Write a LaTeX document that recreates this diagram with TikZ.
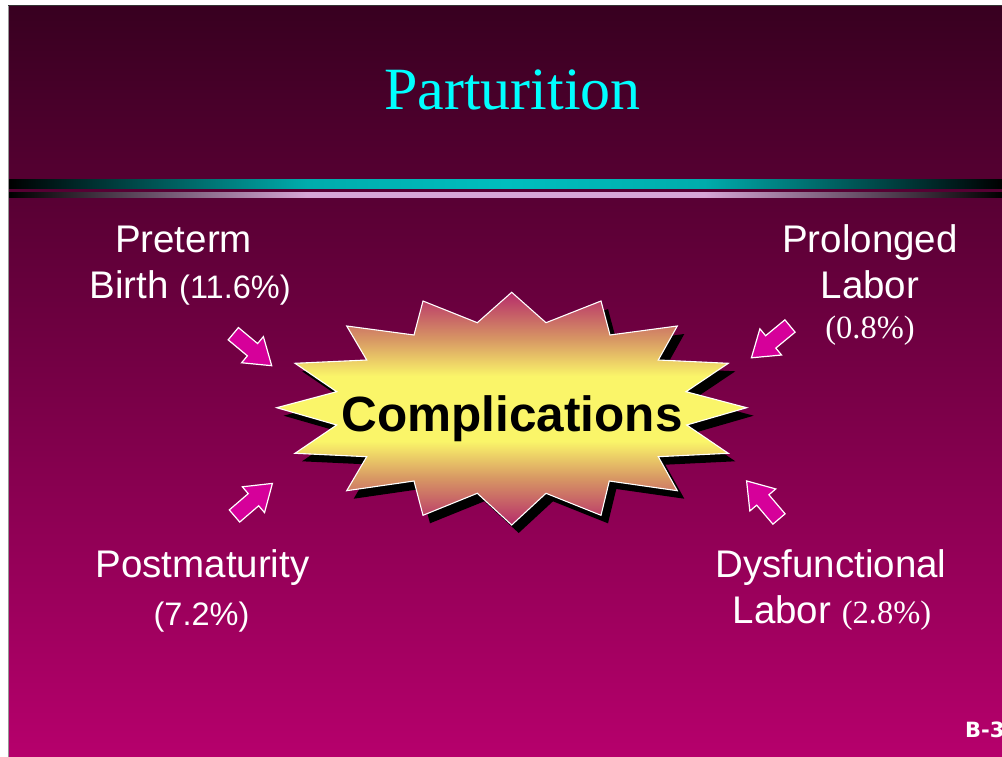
\documentclass[tikz,border=0pt]{standalone}
\usepackage{fontspec}
\setmainfont{Liberation Serif}
\setsansfont{Liberation Sans}
\newfontfamily\pagefont{DejaVu Sans}
\definecolor{bgtop}{RGB}{56,0,32}
\definecolor{bgbot}{RGB}{182,0,108}
\definecolor{cyanbar}{RGB}{0,172,172}
\definecolor{cyanmid}{RGB}{0,190,190}
\definecolor{pinkbar}{RGB}{214,166,214}
\definecolor{burstpink}{RGB}{182,44,106}
\definecolor{burstmid}{RGB}{215,150,100}
\definecolor{burstyel}{RGB}{250,245,105}
\definecolor{arrowmag}{RGB}{214,0,154}
\definecolor{titlecyan}{RGB}{0,255,255}
\definecolor{framegray}{RGB}{150,150,150}
\pgfdeclareverticalshading{burstshade}{100bp}{color(0bp)=(burstpink); color(25bp)=(burstpink); color(35bp)=(burstmid); color(43bp)=(burstyel); color(57bp)=(burstyel); color(65bp)=(burstmid); color(75bp)=(burstpink); color(100bp)=(burstpink)}
\pgfdeclarehorizontalshading{cyanshade}{100bp}{color(0bp)=(black); color(25bp)=(black); color(40bp)=(cyanbar); color(50bp)=(cyanmid); color(60bp)=(cyanbar); color(75bp)=(black); color(100bp)=(black)}
\pgfdeclarehorizontalshading{pinkshade}{100bp}{color(0bp)=(black); color(25bp)=(black); color(40bp)=(pinkbar); color(60bp)=(pinkbar); color(75bp)=(black); color(100bp)=(black)}
\tikzset{
  burstpath/.style={insert path={(511.7,292.3) -- (546,322.7) -- (601,301) -- (610,335) -- (677.3,326) -- (658.3,360) -- (728.3,363.3) -- (686,391.7) -- (746.7,407.7) -- (686.7,425) -- (728.3,453.3) -- (658.3,456.7) -- (677.3,490.7) -- (609.3,481) -- (601,515.3) -- (546,493.3) -- (511.7,525) -- (477.3,493.3) -- (423,515.3) -- (414,481) -- (346.7,490.7) -- (366.7,456.7) -- (295,453.3) -- (336.7,425) -- (276.7,407.7) -- (336.7,391.7) -- (295,363.3) -- (366.7,360) -- (346.7,326) -- (414,335) -- (423,301) -- (477.3,322.7) -- cycle}},
  arrowstyle/.style={fill=arrowmag, draw=white, line width=1.2pt, line join=miter},
  blockarrow/.pic={\draw[arrowstyle] (0,-8) -- (25,-8) -- (25,-17) -- (50,0) -- (25,17) -- (25,8) -- (0,8) -- cycle;},
  lbl/.style={text=white, font=\sffamily\fontsize{38.5}{46}\selectfont, inner sep=0pt, anchor=base},
  pct/.style={text=white, font=\sffamily\fontsize{32.5}{40}\selectfont, inner sep=0pt, anchor=base},
  pctserif/.style={text=white, font=\rmfamily\fontsize{32.5}{40}\selectfont, inner sep=0pt, anchor=base}
}
\begin{document}
\begin{tikzpicture}[x=1pt,y=-1pt]
\useasboundingbox (0,0) rectangle (1002,757);
% page and slide background
\fill[white] (0,0) rectangle (1002,757);
\shade[top color=bgtop, bottom color=bgbot] (9,6) rectangle (1002,757);
\draw[framegray, line width=1pt] (8.5,5) -- (8.5,757);
\draw[black!80, line width=1pt] (8,5.5) -- (1002,5.5);
% bars
\shade[shading=cyanshade] (9,180) rectangle (1002,189);
\shade[shading=pinkshade] (9,193) rectangle (1002,198);
% title
\node[text=titlecyan, font=\rmfamily\fontsize{60}{70}\selectfont, inner sep=0pt, anchor=base] (title) at (512.5,110) {Parturition};
% starburst
\fill[black, shift={(7,8)}, burstpath];
\shade[shading=burstshade, burstpath];
\draw[white, line width=1.1pt, line join=miter, burstpath];
\node[font=\sffamily\bfseries\fontsize{49.5}{56}\selectfont, text=black, inner sep=0pt, anchor=base] (comp) at (512,431.5) {Complications};
% arrows
\pic[rotate=-39.8] (arUL) at (233.3,333.7) {blockarrow};
\pic[rotate=-140.5] (arUR) at (790,326) {blockarrow};
\pic[rotate=40.7] (arLL) at (234.5,516) {blockarrow};
\pic[rotate=130.4] (arLR) at (779,519) {blockarrow};
% labels
\node[lbl] (pre1) at (183.5,252) {Preterm};
\node[lbl] (pre2) at (190,298) {Birth {\fontsize{32.5}{40}\selectfont(11.6\%)}};
\node[lbl] (pro1) at (870,252) {Prolonged};
\node[lbl] (pro2) at (870,298) {Labor};
\node[pctserif] (pro3) at (870,338) {(0.8\%)};
\node[lbl] (post1) at (202.5,577) {Postmaturity};
\node[pct] (post2) at (201.5,625) {(7.2\%)};
\node[lbl] (dys1) at (831,577) {Dysfunctional};
\node[lbl] (dys2) at (832,623) {Labor {\rmfamily\fontsize{32.5}{40}\selectfont(2.8\%)}};
\node[text=white, font=\pagefont\bfseries\fontsize{21}{24}\selectfont, inner sep=0pt, anchor=base west] (page) at (965,737) {B-3};
\end{tikzpicture}
\end{document}
